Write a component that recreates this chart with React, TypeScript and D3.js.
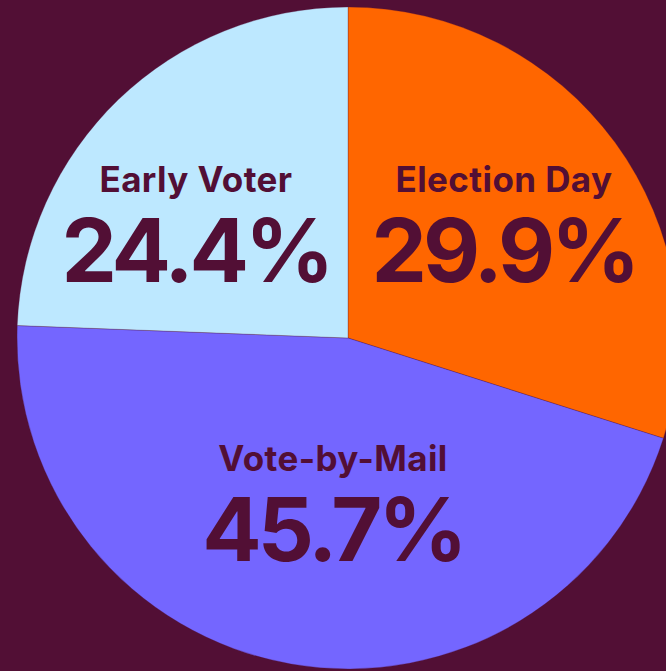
import React from "react";
import * as d3 from "d3";

const categories = ["Election Day", "Vote-by-Mail", "Early Voter"];
const shares = [29.9, 45.7, 24.4];
const sliceColors = ["#ff6600", "#7466ff", "#bde8ff"];

// label block offsets from pie centre (layout, not data)
const labelOffsets: [number, number][] = [
  [156, -113],
  [-15, 166],
  [-152, -113],
];

const W = 666;
const H = 671;
const BG = "#520f35";
const TEXT = "#520f35";

export default function App() {
  const cx = 348;
  const cy = 338;
  const r = 331;
  const data = categories.map((c, i) => ({ label: c, value: shares[i], color: sliceColors[i], off: labelOffsets[i] }));
  const pie = d3.pie<any>().sort(null).value((d) => d.value);
  const arcs = pie(data);
  const arc = d3.arc<any>().innerRadius(0).outerRadius(r);
  return (
    <svg width={W} height={H} style={{ position: "absolute", left: 0, top: 0, display: "block" }}>
      <rect width={W} height={H} fill={BG} />
      <g transform={`translate(${cx},${cy})`}>
        {arcs.map((a, i) => (
          <path key={i} d={arc(a) as string} fill={a.data.color} stroke={BG} strokeWidth={0.4} strokeOpacity={0.7} />
        ))}
        {arcs.map((a, i) => (
          <g key={"t" + i} transform={`translate(${a.data.off[0]},${a.data.off[1]})`} fill={TEXT} textAnchor="middle" fontFamily="Inter, 'Liberation Sans', sans-serif" fontWeight={700}>
            <text y={-33} fontSize={35} fontWeight={700} letterSpacing={0.4}>{a.data.label}</text>
            <text y={57} fontSize={88} fontWeight={700} letterSpacing={-4}>{d3.format(".1f")(a.data.value)}%</text>
          </g>
        ))}
      </g>
    </svg>
  );
}
